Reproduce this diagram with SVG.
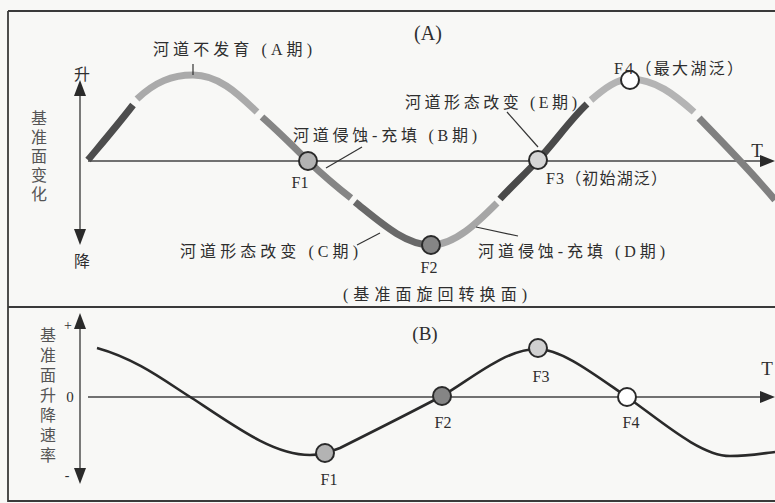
<svg xmlns="http://www.w3.org/2000/svg" width="775" height="503" viewBox="0 0 775 503">
<style>
.frame{stroke:#3a3a3a;stroke-width:1.8;fill:none}
.axis{stroke:#444;stroke-width:1.4;fill:none}
.head{fill:#2a2a2a}
.seg{fill:none;stroke-width:7;stroke-linecap:butt}
.lead{stroke:#333;stroke-width:1.2;fill:none}
.cjk{font-family:"Liberation Serif","Noto Sans CJK SC",serif;font-size:16px;fill:#2e2e2e}
.lat{font-family:"Liberation Serif",serif;fill:#2e2e2e}
.vt{font-family:"Noto Sans CJK SC",sans-serif;font-size:16px;fill:#555;writing-mode:vertical-rl}
.pt{stroke:#2a2a2a;stroke-width:2}
.crv{fill:none;stroke:#2a2a2a;stroke-width:2.6}
</style>
<rect x="0" y="0" width="775" height="503" fill="#f8f8f6"/>
<g id="frame">
<line class="frame" x1="8" y1="11" x2="775" y2="11"/>
<line class="frame" x1="8" y1="11" x2="8" y2="502"/>
<line class="frame" x1="8" y1="307" x2="775" y2="307"/>
<line class="frame" x1="8" y1="501" x2="775" y2="501"/>
</g>
<g id="panelA-axes">
<line class="axis" x1="80" y1="92" x2="80" y2="233"/>
<polygon class="head" points="80,80 74,96 86,96"/>
<polygon class="head" points="80,245 74,229 86,229"/>
<line class="axis" x1="88" y1="161" x2="762" y2="161"/>
<polygon class="head" points="775,161 760,155 760,167"/>
<text class="cjk" x="82" y="80" text-anchor="middle" font-size="15">升</text>
<text class="cjk" x="82" y="267" text-anchor="middle" font-size="15">降</text>
<text class="vt" x="39" y="110" letter-spacing="3">基准面变化</text>
<text class="lat" x="428" y="40" text-anchor="middle" font-size="20">(A)</text>
<text class="lat" x="757" y="157" text-anchor="middle" font-size="19">T</text>
</g>
<g id="curveA">
<path class="seg" stroke="#4d4d4d" d="M88,160 C103,142 120,122 133,105"/>
<path class="seg" stroke="#aaaaaa" d="M137,99 C155,82 172,75 193,75 C220,75 240,96 257,112"/>
<path class="seg" stroke="#858585" d="M262,117 C280,133 295,148 308,161 C325,177 338,188 351,198"/>
<path class="seg" stroke="#696969" d="M355,202 C380,222 405,245 431,245"/>
<path class="seg" stroke="#a6a6a6" d="M431,245 C455,245 478,222 497,203"/>
<path class="seg" stroke="#4a4a4a" d="M500,199 C512,186 526,173 538,160 C555,142 570,120 587,104"/>
<path class="seg" stroke="#b4b4b4" d="M591,100 C605,88 617,79 630,79 C655,79 675,95 694,112"/>
<path class="seg" stroke="#808080" d="M699,118 C720,140 750,170 775,200"/>
</g>
<g id="connectors">
<line class="lead" x1="193" y1="64" x2="193" y2="75"/>
<line class="lead" x1="362" y1="147" x2="326" y2="168"/>
<line class="lead" x1="357" y1="245" x2="380" y2="233"/>
<line class="lead" x1="476" y1="227" x2="518" y2="236"/>
<line class="lead" x1="507" y1="112" x2="538" y2="147"/>
</g>
<g id="F1A"><circle class="pt" cx="308" cy="161" r="9" fill="#b3b3b3"/><text class="lat" x="300" y="188" text-anchor="middle" font-size="16">F1</text></g>
<g id="F2A"><circle class="pt" cx="431" cy="245" r="9" fill="#858585"/><text class="lat" x="429" y="273" text-anchor="middle" font-size="16">F2</text></g>
<g id="F3A"><circle class="pt" cx="538" cy="160" r="9" fill="#d6d6d6"/><text class="cjk" x="546" y="184" textLength="121" lengthAdjust="spacing">F3（初始湖泛）</text></g>
<g id="F4A"><circle class="pt" cx="630" cy="80" r="9" fill="#ffffff"/><text class="cjk" x="614" y="74" textLength="129" lengthAdjust="spacing">F4（最大湖泛）</text></g>
<g id="labelsA">
<text class="cjk" x="153" y="55" textLength="159" lengthAdjust="spacing">河道不发育 (A期)</text>
<text class="cjk" x="293" y="141" textLength="184" lengthAdjust="spacing">河道侵蚀-充填 (B期)</text>
<text class="cjk" x="180" y="257" textLength="178" lengthAdjust="spacing">河道形态改变 (C期)</text>
<text class="cjk" x="478" y="257" textLength="187" lengthAdjust="spacing">河道侵蚀-充填 (D期)</text>
<text class="cjk" x="405" y="108" textLength="172" lengthAdjust="spacing">河道形态改变 (E期)</text>
<text class="cjk" x="343" y="300" textLength="184" lengthAdjust="spacing">(基准面旋回转换面)</text>
</g>
<g id="panelB-axes">
<line class="axis" x1="80" y1="325" x2="80" y2="472"/>
<polygon class="head" points="80,313 74,329 86,329"/>
<polygon class="head" points="80,484 74,468 86,468"/>
<line class="axis" x1="88" y1="397" x2="762" y2="397"/>
<polygon class="head" points="775,397 760,391 760,403"/>
<text class="lat" x="68" y="330" text-anchor="middle" font-size="14">+</text>
<text class="lat" x="70" y="402" text-anchor="middle" font-size="15">0</text>
<text class="lat" x="67" y="480" text-anchor="middle" font-size="14">-</text>
<text class="vt" x="48" y="327" letter-spacing="4">基准面升降速率</text>
<text class="lat" x="425" y="340" text-anchor="middle" font-size="19">(B)</text>
<text class="lat" x="767" y="375" text-anchor="middle" font-size="19">T</text>
</g>
<g id="curveB">
<path class="crv" d="M97,348 C140,360 170,385 195,400 C240,430 275,455 310,455 C320,455 330,452 340,448 C380,428 410,413 442,396 C470,380 505,349 537,349 C562,349 595,375 627,397 C660,420 700,456 730,456 C750,456 765,453 775,452"/>
</g>
<g id="F1B"><circle class="pt" cx="325" cy="453" r="9" fill="#b3b3b3"/><text class="lat" x="329" y="485" text-anchor="middle" font-size="16">F1</text></g>
<g id="F2B"><circle class="pt" cx="442" cy="396" r="9" fill="#858585"/><text class="lat" x="443" y="428" text-anchor="middle" font-size="16">F2</text></g>
<g id="F3B"><circle class="pt" cx="538" cy="348" r="9" fill="#d0d0d0"/><text class="lat" x="541" y="382" text-anchor="middle" font-size="16">F3</text></g>
<g id="F4B"><circle class="pt" cx="627" cy="397" r="9" fill="#ffffff"/><text class="lat" x="631" y="428" text-anchor="middle" font-size="16">F4</text></g>
</svg>
